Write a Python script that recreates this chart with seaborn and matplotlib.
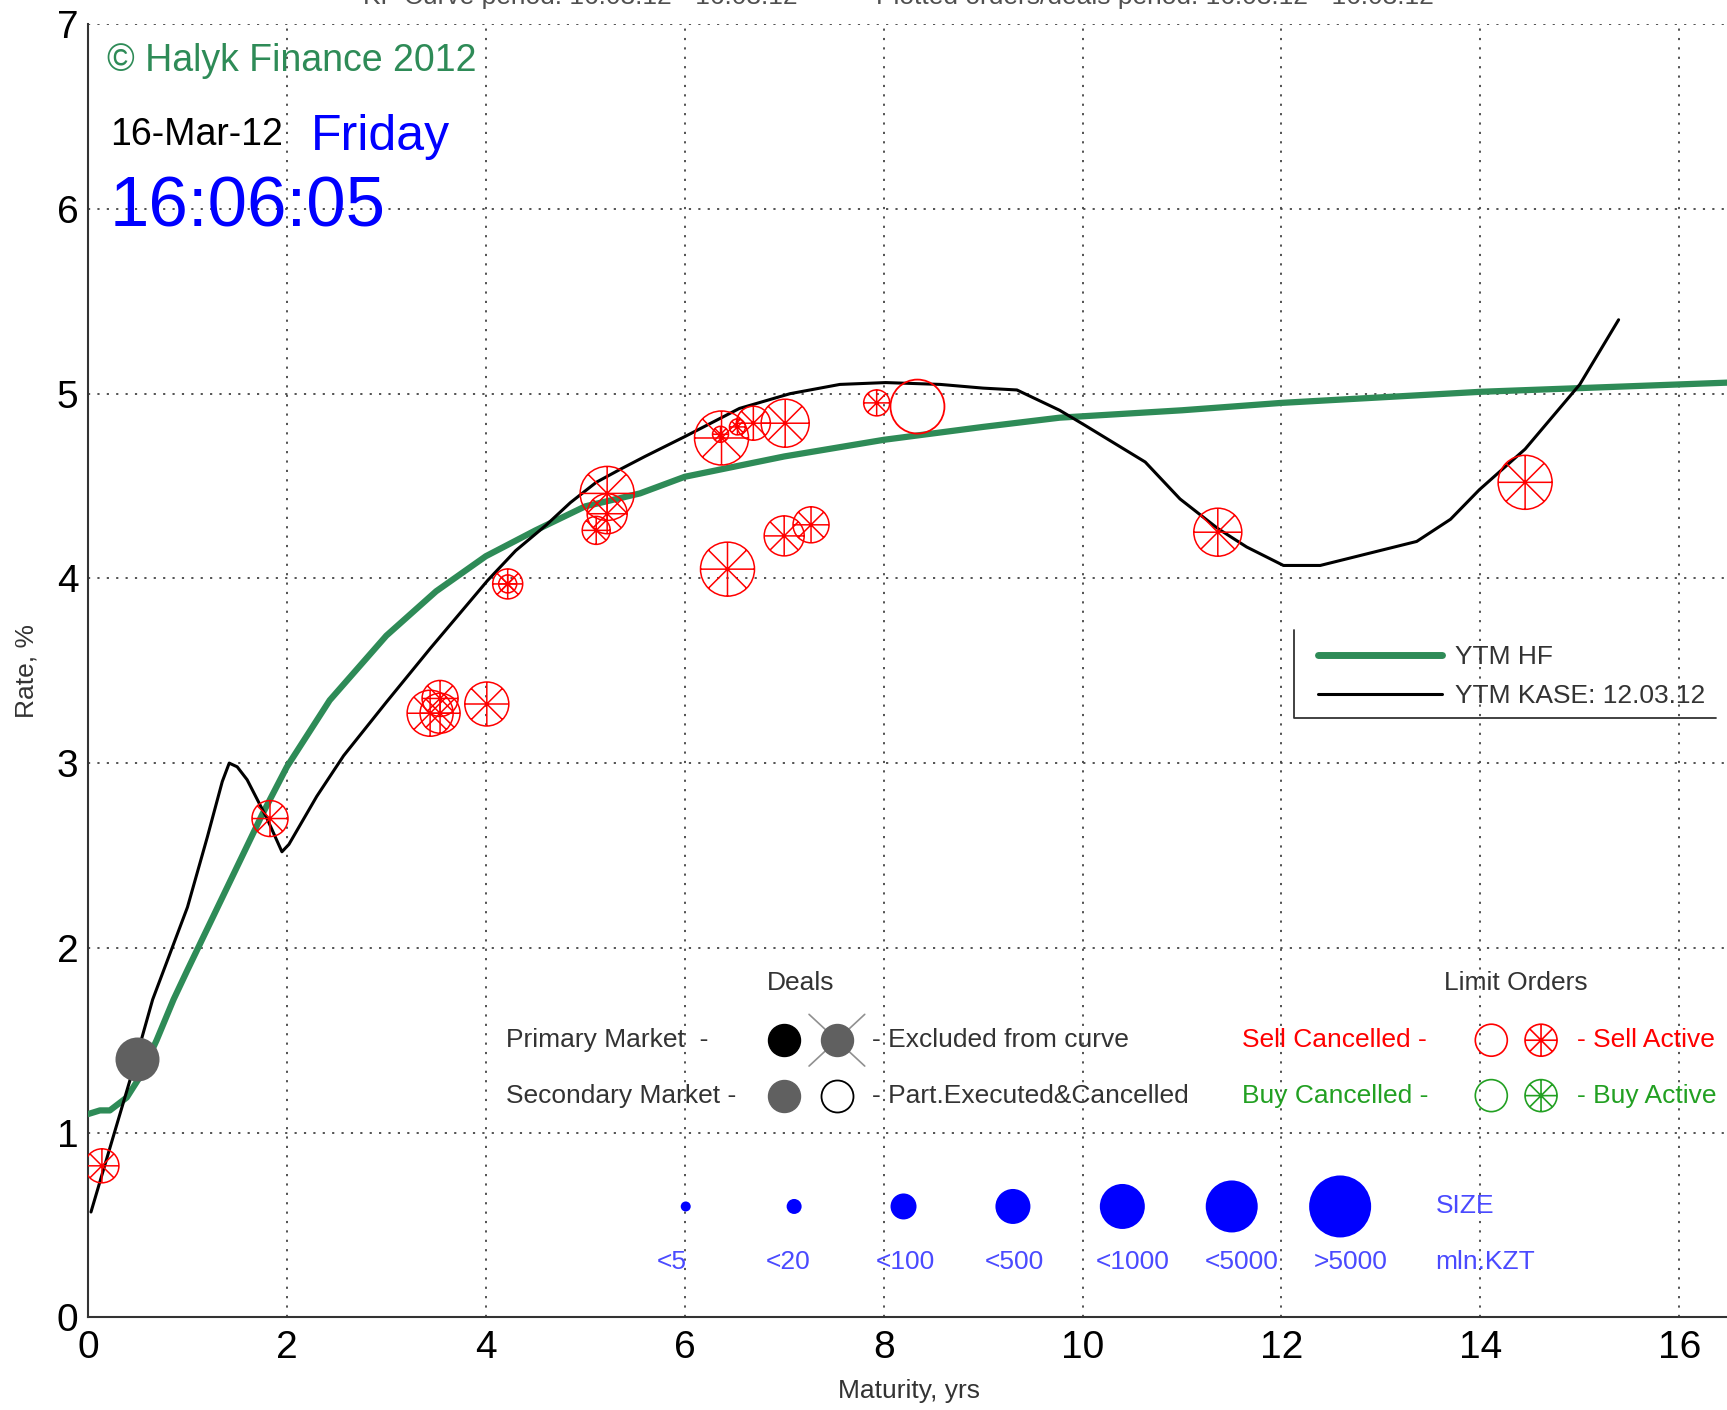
import numpy as np
import pandas as pd
import matplotlib
matplotlib.use('Agg')
import matplotlib.pyplot as plt
from matplotlib.path import Path
from matplotlib.lines import Line2D
import seaborn as sns

# ------------------------
# Data
# ------------------------
hf_maturity = [0.0, 0.12, 0.22, 0.39, 0.52, 0.69, 0.86, 1.0, 1.25, 1.5, 1.75, 2.0, 2.43, 3.0,
               3.5, 4.0, 4.5, 5.0, 5.55, 6.0, 7.0, 8.0, 9.0, 9.77, 11.0, 12.0, 13.0, 14.0,
               15.0, 16.0, 16.5]
hf_rate = [1.10, 1.12, 1.12, 1.19, 1.30, 1.50, 1.72, 1.88, 2.16, 2.44, 2.72, 2.98, 3.34, 3.69,
           3.93, 4.12, 4.26, 4.39, 4.46, 4.55, 4.66, 4.75, 4.82, 4.87, 4.91, 4.95, 4.98, 5.01,
           5.03, 5.05, 5.06]

kase_maturity = [0.03, 0.2, 0.42, 0.65, 1.0, 1.2, 1.35, 1.42, 1.5, 1.6, 1.8, 1.95, 2.02, 2.3,
                 2.57, 3.0, 3.44, 4.02, 4.3, 4.61, 4.85, 5.11, 5.35, 5.6, 6.01, 6.55, 7.06,
                 7.56, 8.02, 8.57, 9.0, 9.34, 9.77, 10.02, 10.63, 10.98, 11.36, 11.65, 12.02,
                 12.39, 13.36, 13.7, 13.99, 14.45, 15.0, 15.39]
kase_rate = [0.57, 0.88, 1.28, 1.72, 2.22, 2.60, 2.90, 3.00, 2.98, 2.91, 2.70, 2.52, 2.56, 2.82,
             3.04, 3.33, 3.62, 3.99, 4.15, 4.29, 4.41, 4.52, 4.59, 4.66, 4.77, 4.92, 5.00,
             5.05, 5.06, 5.05, 5.03, 5.02, 4.91, 4.83, 4.63, 4.43, 4.27, 4.17, 4.07,
             4.07, 4.20, 4.32, 4.48, 4.70, 5.05, 5.40]

order_maturity = [0.14, 1.83, 3.44, 3.54, 3.54, 4.01, 4.22, 4.22, 5.11, 5.22, 5.22, 6.37, 6.36,
                  6.53, 6.69, 7.01, 7.93, 8.34, 6.43, 7.00, 7.27, 11.36, 14.45]
order_rate = [0.82, 2.70, 3.27, 3.27, 3.35, 3.32, 3.97, 3.97, 4.26, 4.35, 4.46, 4.76, 4.78,
              4.82, 4.84, 4.84, 4.95, 4.93, 4.05, 4.23, 4.29, 4.25, 4.52]
order_radius = [17, 18, 23, 20, 18, 22, 15, 9, 14, 20, 27, 27, 8, 8, 17, 24, 13, 27, 27, 20,
                18, 24, 27]
order_active = [True] * 17 + [False] + [True] * 5

deal_maturity = [0.49]
deal_rate = [1.40]
deal_radius = [22]

size_labels = ['<5', '<20', '<100', '<500', '<1000', '<5000', '>5000']
size_key_x = [6.01, 7.10, 8.20, 9.30, 10.40, 11.50, 12.59]
size_label_x = [5.87, 7.04, 8.22, 9.31, 10.50, 11.60, 12.70]
size_key_radius = [5, 7.5, 13, 17.5, 22.5, 26, 31]

GREEN = '#2E8B57'
RED = '#ff0000'
LGREEN = '#22a022'
BLUE = '#0000ff'
TXT = '#333333'


def px_to_s(r):
    # radius in pixels -> scatter size (points^2) at dpi 100
    return (2 * np.asarray(r, dtype=float) * 72 / 100) ** 2


def spoke_marker():
    verts, codes = [], []
    for a in np.arange(8) * np.pi / 4:
        verts += [(0, 0), (np.cos(a), np.sin(a))]
        codes += [Path.MOVETO, Path.LINETO]
    return Path.make_compound_path(Path.unit_circle(), Path(verts, codes))


SPOKE = spoke_marker()

sns.set_style('white')
plt.rcParams['font.family'] = ['Liberation Sans', 'DejaVu Sans']

fig = plt.figure(figsize=(17.27, 14.10), dpi=100)
ax = fig.add_axes([88 / 1727, (1410 - 1317.3) / 1410, (1729 - 88) / 1727, 1293.1 / 1410])

# ------------------------
# Curves
# ------------------------
sns.lineplot(x=hf_maturity, y=hf_rate, color=GREEN, lw=4.5, estimator=None, sort=False,
             legend=False, label='YTM HF', ax=ax, zorder=3)
sns.lineplot(x=kase_maturity, y=kase_rate, color='black', lw=2.2, estimator=None, sort=False,
             legend=False, label='YTM KASE: 12.03.12', ax=ax, zorder=3)

# ------------------------
# Orders and deals
# ------------------------
orders = pd.DataFrame({'m': order_maturity, 'r': order_rate,
                       's': px_to_s(order_radius), 'active': order_active})
act = orders[orders['active']]
canc = orders[~orders['active']]
sns.scatterplot(data=act, x='m', y='r', s=act['s'].to_numpy(), marker=SPOKE,
                facecolor='none', edgecolor=RED, linewidth=1.1, legend=False, ax=ax, zorder=4)
sns.scatterplot(data=canc, x='m', y='r', s=canc['s'].to_numpy(), marker='o',
                facecolor='none', edgecolor=RED, linewidth=1.3, legend=False, ax=ax, zorder=4)
sns.scatterplot(x=deal_maturity, y=deal_rate, s=px_to_s(deal_radius), marker='o',
                color='#606060', edgecolor='#606060', linewidth=0, legend=False, ax=ax, zorder=5)

# ------------------------
# Axes styling
# ------------------------
ax.set_xlim(0, 16.5)
ax.set_ylim(0, 7)
ax.set_xticks(np.arange(0, 17, 2))
ax.set_yticks(np.arange(0, 8, 1))
ax.tick_params(axis='both', direction='in', length=10, width=1.2, labelsize=28,
               colors='black')
ax.tick_params(axis='y', pad=7)
ax.tick_params(axis='x', pad=9)
ax.grid(True, linestyle=(0, (1.2, 4)), color='#444444', linewidth=1.3)
ax.set_axisbelow(True)
for side in ['top', 'right']:
    ax.spines[side].set_visible(False)
for side in ['left', 'bottom']:
    ax.spines[side].set_color('#333333')
    ax.spines[side].set_linewidth(1.5)

ax.set_ylabel('Rate, %', fontsize=19, color=TXT)
ax.set_xlabel('Maturity, yrs', fontsize=19, color=TXT)
ax.yaxis.set_label_coords(-0.03, 0.5)
ax.xaxis.set_label_coords(0.5, -0.048)

# ------------------------
# Header texts
# ------------------------
ax.text(0.19, 6.80, '\u00a9 Halyk Finance 2012', color=GREEN, fontsize=27, va='center')
ax.text(0.22, 6.40, '16-Mar-12', color='black', fontsize=27, va='center')
ax.text(2.24, 6.39, 'Friday', color=BLUE, fontsize=36, va='center')
ax.text(0.22, 6.00, '16:06:05', color=BLUE, fontsize=51, va='center')

# title above the plot, mostly cut off by the top edge as in the original
fig.text(363 / 1727, 1 - 4 / 1410, 'KF Curve period: 16.03.12 - 16.03.12', fontsize=19,
         color='#505050', va='baseline')
fig.text(876 / 1727, 1 - 4 / 1410, 'Plotted orders/deals period: 16.03.12 - 16.03.12',
         fontsize=19, color='#505050', va='baseline')

# ------------------------
# Line legend
# ------------------------
handles = [Line2D([], [], color=GREEN, lw=5), Line2D([], [], color='black', lw=2.2)]
ax.legend(handles, ['YTM HF', 'YTM KASE: 12.03.12'], loc='upper left',
          bbox_to_anchor=(1318 / 1727, 1 - 645 / 1410), bbox_transform=fig.transFigure,
          frameon=False, fontsize=19, handlelength=4.7, handletextpad=0.5,
          labelspacing=0.56, borderpad=0, borderaxespad=0, labelcolor=TXT)
fig.add_artist(Line2D([1294 / 1727, 1294 / 1727, 1716 / 1727],
                      [1 - 630 / 1410, 1 - 718 / 1410, 1 - 718 / 1410],
                      transform=fig.transFigure, color='#333333', lw=1.3))

# ------------------------
# Deals / limit orders key
# ------------------------
ax.text(7.17, 1.81, 'Deals', fontsize=19, color=TXT, ha='center', va='center')
ax.text(14.36, 1.81, 'Limit Orders', fontsize=19, color=TXT, ha='center', va='center')
ax.text(4.2, 1.50, 'Primary Market  -', fontsize=19, color=TXT, va='center')
ax.text(4.2, 1.20, 'Secondary Market -', fontsize=19, color=TXT, va='center')
ax.text(7.88, 1.50, '- Excluded from curve', fontsize=19, color=TXT, va='center')
ax.text(7.88, 1.20, '- Part.Executed&Cancelled', fontsize=19, color=TXT, va='center')
ax.text(11.6, 1.50, 'Sell Cancelled -', fontsize=19, color=RED, va='center')
ax.text(11.6, 1.20, 'Buy Cancelled -', fontsize=19, color=LGREEN, va='center')
ax.text(14.97, 1.50, '- Sell Active', fontsize=19, color=RED, va='center')
ax.text(14.97, 1.20, '- Buy Active', fontsize=19, color=LGREEN, va='center')

key_s = px_to_s(16)
ax.scatter([7.0], [1.5], s=key_s, color='black', zorder=5)
ax.scatter([7.53, 7.0], [1.5, 1.2], s=key_s, color='#606060', zorder=5)
ax.scatter([7.53], [1.2], s=key_s, facecolor='white', edgecolor='black', linewidth=1.3, zorder=5)
ax.plot([7.25, 7.81], [1.64, 1.36], color='#909090', lw=1.2, zorder=4)
ax.plot([7.25, 7.81], [1.36, 1.64], color='#909090', lw=1.2, zorder=4)
ax.scatter([14.11], [1.5], s=key_s, facecolor='none', edgecolor=RED, linewidth=1.2, zorder=5)
ax.scatter([14.61], [1.5], s=key_s, marker=SPOKE, facecolor='none', edgecolor=RED,
           linewidth=1.2, zorder=5)
ax.scatter([14.11], [1.2], s=key_s, facecolor='none', edgecolor=LGREEN, linewidth=1.2, zorder=5)
ax.scatter([14.61], [1.2], s=key_s, marker=SPOKE, facecolor='none', edgecolor=LGREEN,
           linewidth=1.2, zorder=5)

# size key
ax.scatter(size_key_x, [0.6] * len(size_key_x), s=px_to_s(size_key_radius), color=BLUE,
           linewidth=0, zorder=5)
for xx, lab in zip(size_label_x, size_labels):
    ax.text(xx, 0.30, lab, fontsize=19, color='#4a4aff', ha='center', va='center')
ax.text(13.55, 0.60, 'SIZE', fontsize=19, color='#4a4aff', va='center')
ax.text(13.55, 0.30, 'mln.KZT', fontsize=19, color='#4a4aff', va='center')

fig.savefig('out.png', dpi=100)
